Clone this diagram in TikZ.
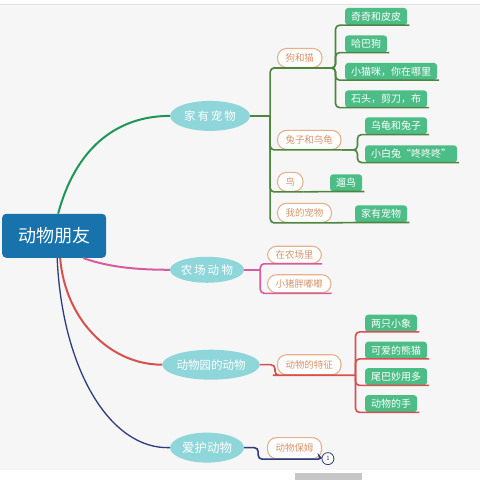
\documentclass[tikz,border=0pt]{standalone}
\usepackage{fontspec}
\setmainfont{Noto Sans CJK SC}
\usetikzlibrary{shapes.geometric}

\definecolor{rootblue}{HTML}{1872AC}
\definecolor{topicteal}{HTML}{8ED6DA}
\definecolor{leafgreen}{HTML}{4DBD87}
\definecolor{pilledge}{HTML}{E6B08C}
\definecolor{pilltext}{HTML}{D8946A}
\definecolor{petgreen}{HTML}{1F9556}
\definecolor{petsub}{HTML}{4E8640}
\definecolor{farmpink}{HTML}{D65C9E}
\definecolor{zoored}{HTML}{D6504E}
\definecolor{carenavy}{HTML}{2D3C7C}
\definecolor{paper}{HTML}{F6F6F6}

\tikzset{
  rootbox/.style={fill=rootblue, text=white, rounded corners=4pt, minimum width=104, minimum height=44,
    inner sep=0pt, font=\fontsize{18}{20}\selectfont},
  topic/.style={ellipse, fill=topicteal, text=white, inner sep=0pt, font=\fontsize{11.5}{13}\selectfont},
  pill/.style={draw=pilledge, line width=1.1pt, fill=white, text=pilltext, rounded corners=9pt,
    inner xsep=8pt, inner ysep=0pt, minimum height=19, anchor=west, font=\fontsize{9.5}{11}\selectfont},
  leaf/.style={fill=leafgreen, text=white, rounded corners=3pt, inner xsep=6pt, inner ysep=0pt,
    minimum height=17, anchor=west, font=\fontsize{10}{12}\selectfont},
  branch/.style={line width=1.6pt, rounded corners=4pt},
}

\begin{document}
\begin{tikzpicture}[x=1pt, y=-1pt]
  % page
  \fill[paper] (0,0) rectangle (480,480);
  \fill[white] (0,0) rectangle (480,4);
  \draw[black!12] (0,4) -- (480,4);
  \fill[white] (0,470) rectangle (480,480);
  \fill[black!22] (295,473) rectangle (362,480);
  \useasboundingbox (0,0) rectangle (480,480);

  \node[rootbox] (root) at (54,236) {动物朋友};

  \node[topic, minimum width=80, minimum height=30] (pet) at (210,116) {家\,有\,宠\,物};
  \node[topic, minimum width=74, minimum height=26] (farm) at (207,270) {农\,场\,动\ 物};
  \node[topic, minimum width=84, minimum height=30] (zoo) at (211,365) {动物园的动物};
  \node[topic, minimum width=74, minimum height=30, font=\fontsize{12.5}{14}\selectfont] (care) at (207,448) {爱护动物};

  % 家有宠物
  \node[pill] (dogcat) at (277,58) {狗和猫};
  \node[pill] (rabbit) at (277,140) {兔子和乌龟};
  \node[pill] (bird) at (277,182) {鸟};
  \node[pill] (mypet) at (277,213) {我的宠物};

  \node[leaf] (qiqi) at (345,16.5) {奇奇和皮皮};
  \node[leaf] (haba) at (345,44) {哈巴狗};
  \node[leaf] (kitten) at (345,71.5) {小猫咪，你在哪里};
  \node[leaf] (rock) at (345,99) {石头，剪刀，布};
  \node[leaf] (turtle) at (365,126) {乌龟和兔子};
  \node[leaf] (bunny) at (365,154) {小白兔“咚咚咚”};
  \node[leaf] (walkbird) at (330,183) {遛鸟};
  \node[leaf] (home) at (355,214) {家有宠物};

  % 农场动物
  \node[pill, minimum height=17] (infarm) at (267,255) {在农场里};
  \node[pill, minimum height=18] (piggy) at (267,284) {小猪胖嘟嘟};

  % 动物园的动物
  \node[pill, minimum height=20] (feature) at (277,365) {动物的特征};
  \node[leaf] (elephant) at (365,323.5) {两只小象};
  \node[leaf] (panda) at (365,350.5) {可爱的熊猫};
  \node[leaf] (tail) at (365,377) {尾巴妙用多};
  \node[leaf] (hand) at (365,404) {动物的手};

  % 爱护动物
  \node[pill, minimum height=21] (nanny) at (267,448.5) {动物保姆};

  % main curves
  \draw[petgreen, line width=2pt] ([xshift=4pt]root.north) .. controls (75,150) and (115,116) .. (pet.west);
  \draw[farmpink, line width=2pt] ([xshift=29pt]root.south) .. controls (110,268) and (140,270) .. (farm.west);
  \draw[zoored, line width=2pt] ([xshift=6pt]root.south) .. controls (65,320) and (110,365) .. (zoo.west);
  \draw[carenavy, line width=1.3pt] ([xshift=3pt]root.south) .. controls (62,370) and (110,450) .. (care.west);

  % sub branches
  \draw[branch, petsub] (pet.east) -- ++(20,0) coordinate (pt);
  \foreach \s in {dogcat, rabbit, bird, mypet}
    \draw[branch, petsub] (pt) |- (\s.south west) -- (\s.south east);
  \foreach \s in {qiqi, haba, kitten, rock}
    \draw[branch, petsub] (dogcat.south east) -- ++(13,0) |- (\s.south west) -- ([xshift=2pt]\s.south east);
  \foreach \s in {turtle, bunny}
    \draw[branch, petsub] (rabbit.south east) -- ++(16,0) |- (\s.south west) -- ([xshift=2pt]\s.south east);
  \draw[branch, petsub] (bird.south east) -- (walkbird.south west) -- ([xshift=2pt]walkbird.south east);
  \draw[branch, petsub] (mypet.south east) -- (home.south west) -- ([xshift=2pt]home.south east);

  \draw[branch, farmpink] (farm.east) -- ++(16,0) coordinate (ft);
  \foreach \s in {infarm, piggy}
    \draw[branch, farmpink] (ft) |- (\s.south west) -- (\s.south east);

  \draw[branch, zoored] (zoo.east) -- ++(15,0) |- (feature.south west) -- (feature.south east) -- ++(14,0) coordinate (zt);
  \foreach \s in {elephant, panda, tail, hand}
    \draw[branch, zoored] (zt) |- (\s.south west) -- ([xshift=2pt]\s.south east);

  \node[circle, draw=carenavy, line width=0.8pt, fill=white, text=carenavy, minimum size=12, inner sep=0pt,
    font=\fontsize{6}{7}\selectfont] (badge) at (328,459) {1};
  \draw[branch, carenavy] (care.east) -- ++(14,0) |- (nanny.south west) -- (nanny.south east) -- (badge.west);
\end{tikzpicture}
\end{document}
